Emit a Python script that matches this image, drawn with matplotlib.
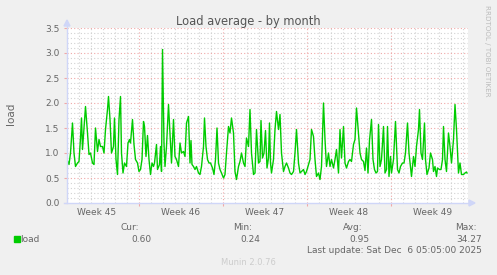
import matplotlib
matplotlib.use("Agg")
import matplotlib.pyplot as plt
from matplotlib.lines import Line2D
from matplotlib.patches import Polygon, Rectangle

# hours since the left edge of the graph, and the load average
hours = [
    0, 4, 7, 11, 14, 17, 21, 24, 27, 29,
    31, 34, 37, 41, 44, 47, 51, 54, 57, 61,
    64, 67, 71, 74, 77, 81, 83, 86, 89, 93,
    95, 98, 101, 104, 107, 109, 112, 115, 119, 122,
    125, 127, 131, 134, 137, 141, 144, 147, 150, 153,
    155, 158, 161, 164, 167, 170, 173, 175, 179, 181,
    185, 187, 189, 191, 194, 196, 199, 203, 206, 209,
    213, 216, 219, 223, 226, 229, 233, 236, 239, 243,
    246, 248, 250, 253, 256, 259, 263, 266, 269, 273,
    275, 278, 281, 284, 287, 291, 294, 297, 300, 303,
    306, 309, 313, 316, 319, 323, 326, 329, 333, 336,
    339, 343, 346, 349, 353, 356, 359, 363, 366, 369,
    373, 376, 379, 383, 386, 388, 391, 394, 397, 400,
    403, 405, 407, 409, 413, 416, 419, 423, 426, 429,
    433, 436, 439, 443, 446, 449, 453, 456, 459, 463,
    466, 469, 473, 476, 479, 483, 486, 489, 493, 496,
    499, 503, 506, 509, 513, 516, 519, 523, 526, 529,
    533, 536, 539, 543, 546, 549, 553, 556, 559, 563,
    566, 569, 573, 576, 579, 583, 586, 589, 593, 596,
    599, 602, 605, 609, 612, 615, 618, 621, 623, 626,
    629, 633, 636, 639, 641, 644, 647, 649, 653, 657,
    661, 664, 667, 671, 674, 677, 681, 684, 687, 689,
    693, 696, 699, 703, 705, 708, 711, 715, 717, 720,
    724, 727, 731, 733, 736, 739, 741, 745, 748, 751,
    753, 756, 759, 763, 766, 769, 773, 776, 779, 783,
    786, 789, 793, 796, 799, 800,
]
load = [
    0.87, 0.77, 1.0, 1.6, 1.0, 0.73, 0.8, 0.83, 1.3, 1.7,
    1.07, 1.5, 1.93, 1.4, 0.97, 1.0, 0.8, 0.77, 1.5, 1.03,
    1.27, 1.13, 1.13, 1.0, 1.47, 1.87, 2.13, 1.67, 1.0, 1.13,
    1.7, 0.87, 0.57, 1.67, 2.13, 1.0, 0.6, 0.8, 0.73, 1.2,
    1.27, 1.2, 1.67, 1.17, 0.87, 0.8, 0.63, 0.67, 0.87, 1.63,
    1.53, 0.93, 1.35, 0.87, 0.57, 0.8, 0.73, 0.8, 1.17, 0.67,
    0.77, 1.13, 0.63, 3.07, 1.2, 0.73, 1.13, 1.97, 1.4, 0.8,
    1.67, 0.93, 0.87, 0.73, 1.2, 1.0, 1.03, 0.93, 1.6, 1.73,
    0.8, 1.25, 0.77, 0.73, 0.67, 0.73, 0.6, 0.57, 0.73, 1.13,
    1.7, 1.13, 0.87, 0.8, 0.8, 0.7, 0.57, 0.87, 1.5, 0.8,
    0.67, 0.6, 0.5, 0.57, 1.0, 1.53, 1.4, 1.7, 1.4, 0.63,
    0.47, 0.73, 0.83, 1.0, 0.8, 0.73, 1.3, 1.13, 1.87, 1.0,
    0.57, 0.6, 1.47, 0.8, 0.83, 1.65, 0.9, 1.0, 1.45, 0.7,
    0.9, 1.6, 0.8, 0.6, 0.87, 1.47, 1.83, 1.47, 1.77, 1.0,
    0.63, 0.73, 0.8, 0.7, 0.6, 0.57, 0.63, 1.0, 1.47, 0.8,
    0.6, 0.63, 0.67, 0.57, 0.63, 0.77, 0.87, 1.47, 1.33, 0.87,
    0.53, 0.6, 0.47, 0.73, 2.0, 1.27, 0.73, 1.0, 0.73, 0.87,
    0.7, 0.87, 1.07, 0.6, 1.47, 0.9, 1.53, 0.8, 0.7, 0.83,
    0.87, 0.83, 1.17, 1.27, 1.9, 1.4, 1.0, 0.87, 0.83, 0.65,
    1.1, 0.6, 1.25, 1.67, 0.87, 0.67, 0.6, 0.63, 1.57, 0.73,
    0.87, 1.53, 0.6, 0.67, 1.53, 0.53, 0.93, 0.6, 0.87, 1.63,
    0.67, 0.6, 0.73, 0.8, 0.8, 1.0, 1.6, 1.0, 0.73, 0.53,
    0.93, 0.73, 1.13, 1.47, 1.87, 1.0, 0.87, 1.6, 0.87, 0.57,
    0.7, 1.0, 0.87, 0.63, 0.73, 0.53, 0.7, 0.67, 0.67, 0.87,
    1.53, 0.87, 0.63, 1.4, 1.13, 0.8, 1.27, 1.97, 1.47, 0.6,
    0.8, 0.57, 0.57, 0.6, 0.62, 0.6,
]

week_labels = ["Week 45", "Week 46", "Week 47", "Week 48", "Week 49"]
week_centers = [2.5, 9.5, 16.5, 23.5, 30.5]   # days from left edge
week_starts = [6, 13, 20, 27]
legend_cols = ["Cur:", "Min:", "Avg:", "Max:"]
legend_vals = ["0.60", "0.24", "0.95", "34.27"]

W, H = 497, 275
fig = plt.figure(figsize=(W / 100, H / 100), dpi=100, facecolor="#F0F0F0")


def fx(x):
    return x / W


def fy(y):
    return 1 - y / H


FONT = "#666666"
AXIS = "#CFD6F8"
GRID = "#D2D2D2"
MGRID = "#F0A8A8"

ax = fig.add_axes([fx(67), fy(203), (468 - 67) / W, (203 - 28) / H])
ax.set_facecolor("white")
ax.set_xlim(0, 401 / 12)
ax.set_ylim(0, 3.5)
for s in ax.spines.values():
    s.set_visible(False)

# grid: grey every day / 0.1, red every week / 0.5
for d in range(1, 34):
    c = MGRID if d % 7 == 6 else GRID
    ax.axvline(d, color=c, lw=0.8, ls=(0, (1, 2)), zorder=1)
for i in range(1, 36):
    c = MGRID if i % 5 == 0 else GRID
    ax.axhline(i / 10, color=c, lw=0.8, ls=(0, (1, 2)), zorder=1)

days = [h / 24 for h in hours]
ax.plot(days, load, color="#00CC00", lw=1, zorder=3)

ax.set_xticks(week_centers, week_labels)
ax.set_xticks(week_starts, minor=True)
ax.set_yticks([i / 2 for i in range(8)], [f"{i / 2:.1f}" for i in range(8)])
ax.tick_params(axis="x", length=0, pad=3.5, labelsize=6.5, labelcolor=FONT)
ax.tick_params(axis="x", which="minor", length=2.5, color=MGRID, width=0.8)
ax.tick_params(axis="y", length=2, color=MGRID, pad=3.5, labelsize=6.5, labelcolor=FONT)

# axes with arrows
fig.add_artist(Line2D([fx(67), fx(67)], [fy(203), fy(24)], color=AXIS, lw=1))
fig.add_artist(Line2D([fx(64), fx(470)], [fy(203), fy(203)], color=AXIS, lw=1))
fig.add_artist(Polygon([(fx(64), fy(26)), (fx(70), fy(26)), (fx(67), fy(20))],
                       closed=True, color=AXIS, transform=fig.transFigure))
fig.add_artist(Polygon([(fx(469), fy(200)), (fx(469), fy(206)), (fx(475), fy(203))],
                       closed=True, color=AXIS, transform=fig.transFigure))

fig.text(fx(248), fy(21), "Load average - by month", ha="center", va="center",
         fontsize=8.3, color="#555555")
fig.text(fx(11), fy(114), "load", rotation=90, ha="center", va="center",
         fontsize=7.5, color=FONT)
fig.text(fx(487), fy(5), "RRDTOOL / TOBI OETIKER", rotation=270, ha="center", va="top",
         fontsize=5.1, color="#BBBBBB")

# legend
fig.add_artist(Rectangle((fx(14), fy(242)), 6 / W, 6 / H, color="#00CC00",
                         transform=fig.transFigure))
fig.text(fx(20.5), fy(239), "load", ha="left", va="center", fontsize=6.5, color=FONT)
head_x = [139, 252, 363, 477]
val_x = [151, 260, 370, 482]
for lab, val, hx, vx in zip(legend_cols, legend_vals, head_x, val_x):
    fig.text(fx(hx), fy(227.5), lab, ha="right", va="center", fontsize=6.5, color=FONT)
    fig.text(fx(vx), fy(239), val, ha="right", va="center", fontsize=6.5, color=FONT)
fig.text(fx(482), fy(250.7), "Last update: Sat Dec  6 05:05:00 2025", ha="right",
         va="center", fontsize=6.5, color=FONT)
fig.text(fx(248), fy(262.7), "Munin 2.0.76", ha="center", va="center",
         fontsize=6, color="#CCCCCC")

fig.savefig("out.png", dpi=100, facecolor=fig.get_facecolor())
